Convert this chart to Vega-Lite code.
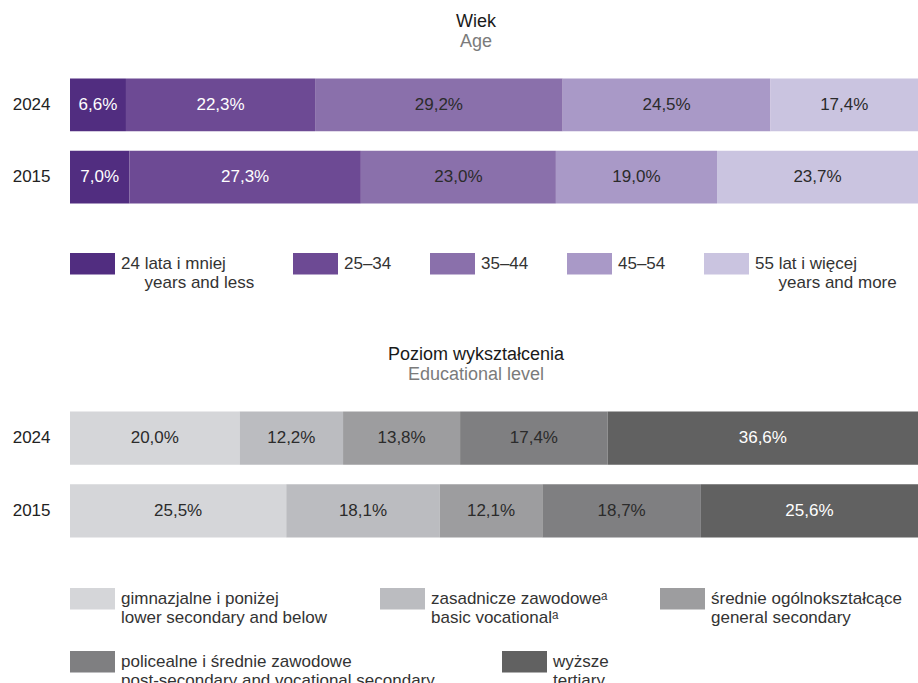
{
  "$schema": "https://vega.github.io/schema/vega-lite/v6.json",
  "padding": {"left": 0, "top": 13, "right": 0, "bottom": 0},
  "background": "white",
  "spacing": 55,
  "resolve": {"scale": {"color": "independent", "fill": "independent"}, "legend": {"color": "independent", "fill": "independent"}},
  "config": {
    "font": "Liberation Sans",
    "view": {"stroke": null},
    "title": {"fontSize": 18, "fontWeight": "normal", "color": "#1a1a1a", "subtitleFontSize": 18, "subtitleColor": "#7b7b7b", "subtitlePadding": 2, "anchor": "middle", "dx": -18, "offset": 18, "font": "Liberation Sans", "subtitleFont": "Liberation Sans"},
    "axisY": {"title": null, "domain": false, "ticks": false, "grid": false, "labelFontSize": 17, "labelColor": "#222222", "labelPadding": 20, "minExtent": 70, "maxExtent": 70, "labelFont": "Liberation Sans"},
    "legend": {"direction": "horizontal", "title": null, "labelFontSize": 17, "labelFont": "Liberation Sans", "labelColor": "#333333", "symbolType": "M-1,-0.48H1V0.48H-1Z", "symbolSize": 2025, "symbolStrokeWidth": 0, "symbolOpacity": 1, "labelOffset": 6, "labelLimit": 500}
  },
  "vconcat": [
    {
      "title": {"text": "Wiek", "subtitle": "Age"},
      "width": 848,
      "height": 144,
      "data": {"values": [
        {"year": "2024", "k": 1, "cat": "24 lata i mniej|\u200b\u00a0\u00a0\u00a0\u00a0\u00a0years and less", "v": 6.6},
        {"year": "2024", "k": 2, "cat": "25–34|", "v": 22.3},
        {"year": "2024", "k": 3, "cat": "35–44|", "v": 29.2},
        {"year": "2024", "k": 4, "cat": "45–54|", "v": 24.5},
        {"year": "2024", "k": 5, "cat": "55 lat i więcej|\u200b\u00a0\u00a0\u00a0\u00a0\u00a0years and more", "v": 17.4},
        {"year": "2015", "k": 1, "cat": "24 lata i mniej|\u200b\u00a0\u00a0\u00a0\u00a0\u00a0years and less", "v": 7.0},
        {"year": "2015", "k": 2, "cat": "25–34|", "v": 27.3},
        {"year": "2015", "k": 3, "cat": "35–44|", "v": 23.0},
        {"year": "2015", "k": 4, "cat": "45–54|", "v": 19.0},
        {"year": "2015", "k": 5, "cat": "55 lat i więcej|\u200b\u00a0\u00a0\u00a0\u00a0\u00a0years and more", "v": 23.7}
      ]},
      "transform": [
        {"stack": "v", "groupby": ["year"], "sort": [{"field": "k", "order": "ascending"}], "as": ["v0", "v1"]},
        {"calculate": "(datum.v0 + datum.v1) / 2", "as": "mid"},
        {"calculate": "replace(format(datum.v, '.1f'), '.', ',') + '%'", "as": "lbl"}
      ],
      "encoding": {
        "y": {"field": "year", "type": "nominal", "sort": ["2024", "2015"], "scale": {"paddingInner": 0.27, "paddingOuter": 0.13}}
      },
      "layer": [
        {
          "mark": {"type": "bar"},
          "encoding": {
            "x": {"field": "v0", "type": "quantitative", "scale": {"domain": [0, 100], "nice": false}, "axis": null},
            "x2": {"field": "v1"},
            "color": {"field": "cat", "type": "nominal",
              "scale": {"domain": ["24 lata i mniej|\u200b\u00a0\u00a0\u00a0\u00a0\u00a0years and less", "25–34|", "35–44|", "45–54|", "55 lat i więcej|\u200b\u00a0\u00a0\u00a0\u00a0\u00a0years and more"],
                        "range": ["#512d80", "#6d4a94", "#8a70ab", "#a999c7", "#cac4e0"]},
              "legend": {"orient": "bottom", "offset": 28, "labelExpr": "split(datum.label, '|')", "columnPadding": 38}}
          }
        },
        {
          "mark": {"type": "text", "fontSize": 17, "font": "Liberation Sans"},
          "encoding": {
            "x": {"field": "mid", "type": "quantitative"},
            "text": {"field": "lbl"},
            "color": {"condition": {"test": "datum.k <= 2", "value": "#ffffff"}, "value": "#2b2b2b"}
          }
        }
      ]
    },
    {
      "title": {"text": "Poziom wykształcenia", "subtitle": "Educational level"},
      "width": 848,
      "height": 145,
      "data": {"values": [
        {"year": "2024", "k": 1, "cat": "gimnazjalne i poniżej|lower secondary and below", "v": 20.0},
        {"year": "2024", "k": 2, "cat": "zasadnicze zawodoweᵃ|basic vocationalᵃ", "v": 12.2},
        {"year": "2024", "k": 3, "cat": "średnie ogólnokształcące|general secondary", "v": 13.8},
        {"year": "2024", "k": 4, "cat": "policealne i średnie zawodowe|post-secondary and vocational secondary", "v": 17.4},
        {"year": "2024", "k": 5, "cat": "wyższe|tertiary", "v": 36.6},
        {"year": "2015", "k": 1, "cat": "gimnazjalne i poniżej|lower secondary and below", "v": 25.5},
        {"year": "2015", "k": 2, "cat": "zasadnicze zawodoweᵃ|basic vocationalᵃ", "v": 18.1},
        {"year": "2015", "k": 3, "cat": "średnie ogólnokształcące|general secondary", "v": 12.1},
        {"year": "2015", "k": 4, "cat": "policealne i średnie zawodowe|post-secondary and vocational secondary", "v": 18.7},
        {"year": "2015", "k": 5, "cat": "wyższe|tertiary", "v": 25.6}
      ]},
      "transform": [
        {"stack": "v", "groupby": ["year"], "sort": [{"field": "k", "order": "ascending"}], "as": ["v0", "v1"]},
        {"calculate": "(datum.v0 + datum.v1) / 2", "as": "mid"},
        {"calculate": "replace(format(datum.v, '.1f'), '.', ',') + '%'", "as": "lbl"}
      ],
      "encoding": {
        "y": {"field": "year", "type": "nominal", "sort": ["2024", "2015"], "scale": {"paddingInner": 0.27, "paddingOuter": 0.13}}
      },
      "layer": [
        {
          "transform": [{"filter": "datum.k <= 3"}],
          "mark": {"type": "bar"},
          "encoding": {
            "x": {"field": "v0", "type": "quantitative", "scale": {"domain": [0, 100], "nice": false}, "axis": null},
            "x2": {"field": "v1"},
            "color": {"field": "cat", "type": "nominal",
              "scale": {"domain": ["gimnazjalne i poniżej|lower secondary and below", "zasadnicze zawodoweᵃ|basic vocationalᵃ", "średnie ogólnokształcące|general secondary"],
                        "range": ["#d5d6d9", "#bbbcc0", "#9d9d9f"]},
              "legend": {"orient": "none", "legendX": 0, "legendY": 174, "labelExpr": "split(datum.label, '|')", "columnPadding": 52}}
          }
        },
        {
          "transform": [{"filter": "datum.k >= 4"}, {"calculate": "datum.cat", "as": "cat2"}],
          "mark": {"type": "bar"},
          "encoding": {
            "x": {"field": "v0", "type": "quantitative"},
            "x2": {"field": "v1"},
            "fill": {"field": "cat2", "type": "nominal",
              "scale": {"domain": ["policealne i średnie zawodowe|post-secondary and vocational secondary", "wyższe|tertiary"],
                        "range": ["#7f7f81", "#616161"]},
              "legend": {"orient": "none", "legendX": 0, "legendY": 237, "labelExpr": "split(datum.label, '|')", "columnPadding": 67}}
          }
        },
        {
          "mark": {"type": "text", "fontSize": 17, "font": "Liberation Sans"},
          "encoding": {
            "x": {"field": "mid", "type": "quantitative"},
            "text": {"field": "lbl"},
            "color": {"condition": {"test": "datum.k == 5", "value": "#ffffff"}, "value": "#2b2b2b"}
          }
        }
      ]
    }
  ]
}
